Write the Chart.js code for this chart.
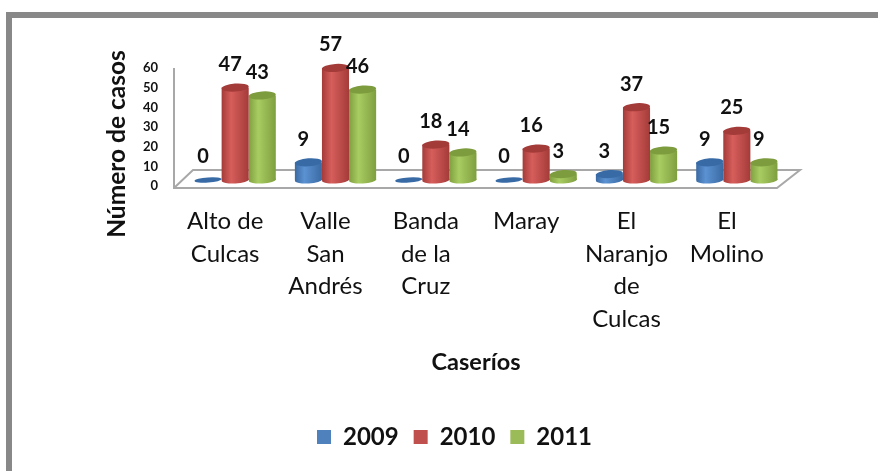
<!DOCTYPE html>
<html><head><meta charset="utf-8">
<script src="https://cdn.jsdelivr.net/npm/chart.js@4"></script>
<style>
html,body{margin:0;padding:0;background:#fff;overflow:hidden}
#wrap{position:relative;width:878px;height:471px}
#frameTop{position:absolute;left:6px;top:12px;width:872px;height:6px;background:#888}
#frameLeft{position:absolute;left:6px;top:12px;width:6px;height:459px;background:#888}
canvas{position:absolute;left:0;top:0;filter:blur(0.4px)}
</style></head><body>
<div id="wrap"><div id="frameTop"></div><div id="frameLeft"></div><canvas id="c" width="878" height="471"></canvas></div>
<script>
const categories = [["Alto de","Culcas"],["Valle","San","Andrés"],["Banda","de la","Cruz"],["Maray"],["El","Naranjo","de","Culcas"],["El","Molino"]];
const values2009 = [0,9,0,0,3,9];
const values2010 = [47,57,18,16,37,25];
const values2011 = [43,46,14,3,15,9];
const yTicks = [0,10,20,30,40,50,60];
const xTitle = "Caseríos";
const yTitle = "Número de casos";
const FONT = "Lato";

const shades = {
  "2009":{legend:"#4f81bd",edge:"#3a6aa3",mid:"#5b92d2",cap:"#386ba6"},
  "2010":{legend:"#c0504d",edge:"#a43b39",mid:"#d65e5b",cap:"#a33b39"},
  "2011":{legend:"#9bbb59",edge:"#7f9f3f",mid:"#a9cc62",cap:"#7d9c3e"}
};
const DX = 10, DY = -6;

const cyl = {
  id:"cyl",
  beforeDatasetsDraw(chart){
    const {ctx,chartArea:a} = chart;
    ctx.save();
    ctx.strokeStyle="#a8a8a8";ctx.lineWidth=2;
    ctx.beginPath();
    ctx.moveTo(a.left-1,a.top);ctx.lineTo(a.left-1,a.bottom+2);
    ctx.lineTo(a.right,a.bottom+2);ctx.lineTo(a.right+23,a.bottom-16);
    ctx.lineTo(a.left+18,a.bottom-16);ctx.lineTo(a.left-1,a.bottom+2);
    ctx.stroke();
    ctx.restore();
    ctx.save();
    ctx.translate(DX,DY);
  },
  beforeDatasetDraw(chart,args){
    const {ctx} = chart;
    const s = shades[chart.data.datasets[args.index].label];
    args.meta.data.forEach(el=>{
      const hw = el.width/2;
      const g = ctx.createLinearGradient(el.x-hw,0,el.x+hw,0);
      g.addColorStop(0,s.edge);g.addColorStop(0.35,s.mid);g.addColorStop(1,s.edge);
      el.options.backgroundColor = g;
      if(el.base-el.y>0.5){
        ctx.fillStyle=g;
        ctx.beginPath();ctx.ellipse(el.x,el.base,hw,3.5,-0.06,0,Math.PI*2);ctx.fill();
      }
    });
  },
  afterDatasetDraw(chart,args){
    const {ctx} = chart;
    const s = shades[chart.data.datasets[args.index].label];
    args.meta.data.forEach(el=>{
      ctx.fillStyle=s.cap;
      ctx.beginPath();ctx.ellipse(el.x,el.y,el.width/2,el.base-el.y>0.5?4:2.6,-0.07,0,Math.PI*2);ctx.fill();
    });
  },
  afterDatasetsDraw(chart){
    const {ctx} = chart;
    ctx.fillStyle="#111";
    ctx.font=`bold 20px ${FONT}`;
    ctx.textAlign="center";ctx.textBaseline="middle";
    chart.data.datasets.forEach((d,i)=>{
      chart.getDatasetMeta(i).data.forEach((el,j)=>{
        ctx.fillText(String(d.data[j]),el.x-5,el.y-23);
      });
    });
    ctx.restore();
    ctx.save();
    ctx.translate(117,144);ctx.rotate(-Math.PI/2);
    ctx.font=`bold 24.5px ${FONT}`;ctx.textAlign="center";ctx.textBaseline="middle";
    ctx.fillStyle="#111";ctx.fillText(yTitle,0,0);
    ctx.restore();
  }
};

new Chart(document.getElementById("c"),{
  type:"bar",
  plugins:[cyl],
  data:{labels:categories,datasets:[
    {label:"2009",data:values2009,backgroundColor:()=>shades["2009"].legend},
    {label:"2010",data:values2010,backgroundColor:()=>shades["2010"].legend},
    {label:"2011",data:values2011,backgroundColor:()=>shades["2011"].legend}
  ].map(d=>({...d,clip:false,categoryPercentage:0.81,barPercentage:1,borderWidth:0}))},
  options:{
    responsive:false,animation:false,
    layout:{padding:{left:132,right:101,top:68,bottom:12}},
    plugins:{
      tooltip:{enabled:false},title:{display:false},
      legend:{position:"bottom",labels:{
        boxWidth:14,boxHeight:14,padding:15,color:"#111",font:{family:FONT,size:24,weight:"bold"},
        generateLabels(chart){
          return chart.data.datasets.map((d,i)=>({text:d.label,fillStyle:shades[d.label].legend,strokeStyle:shades[d.label].legend,lineWidth:0,datasetIndex:i,fontColor:"#111"}));
        }
      }}
    },
    scales:{
      x:{grid:{display:false,drawTicks:false},border:{display:false},
        afterFit(s){s.height=224;},
        ticks:{autoSkip:false,maxRotation:0,minRotation:0,padding:19,color:"#111",font:{family:FONT,size:24,lineHeight:1.355}},
        title:{display:true,text:xTitle,color:"#111",font:{family:FONT,size:23.5,weight:"bold"},padding:{top:0,bottom:33}}},
      y:{min:0,max:60,grid:{display:false,drawTicks:false},border:{display:false},
        afterFit(s){s.width=43;},
        afterBuildTicks(s){s.ticks=yTicks.map(v=>({value:v}));},
        ticks:{autoSkip:false,padding:17,color:"#111",font:{family:FONT,size:13,weight:"bold"}}}
    }
  }
});
</script></body></html>
